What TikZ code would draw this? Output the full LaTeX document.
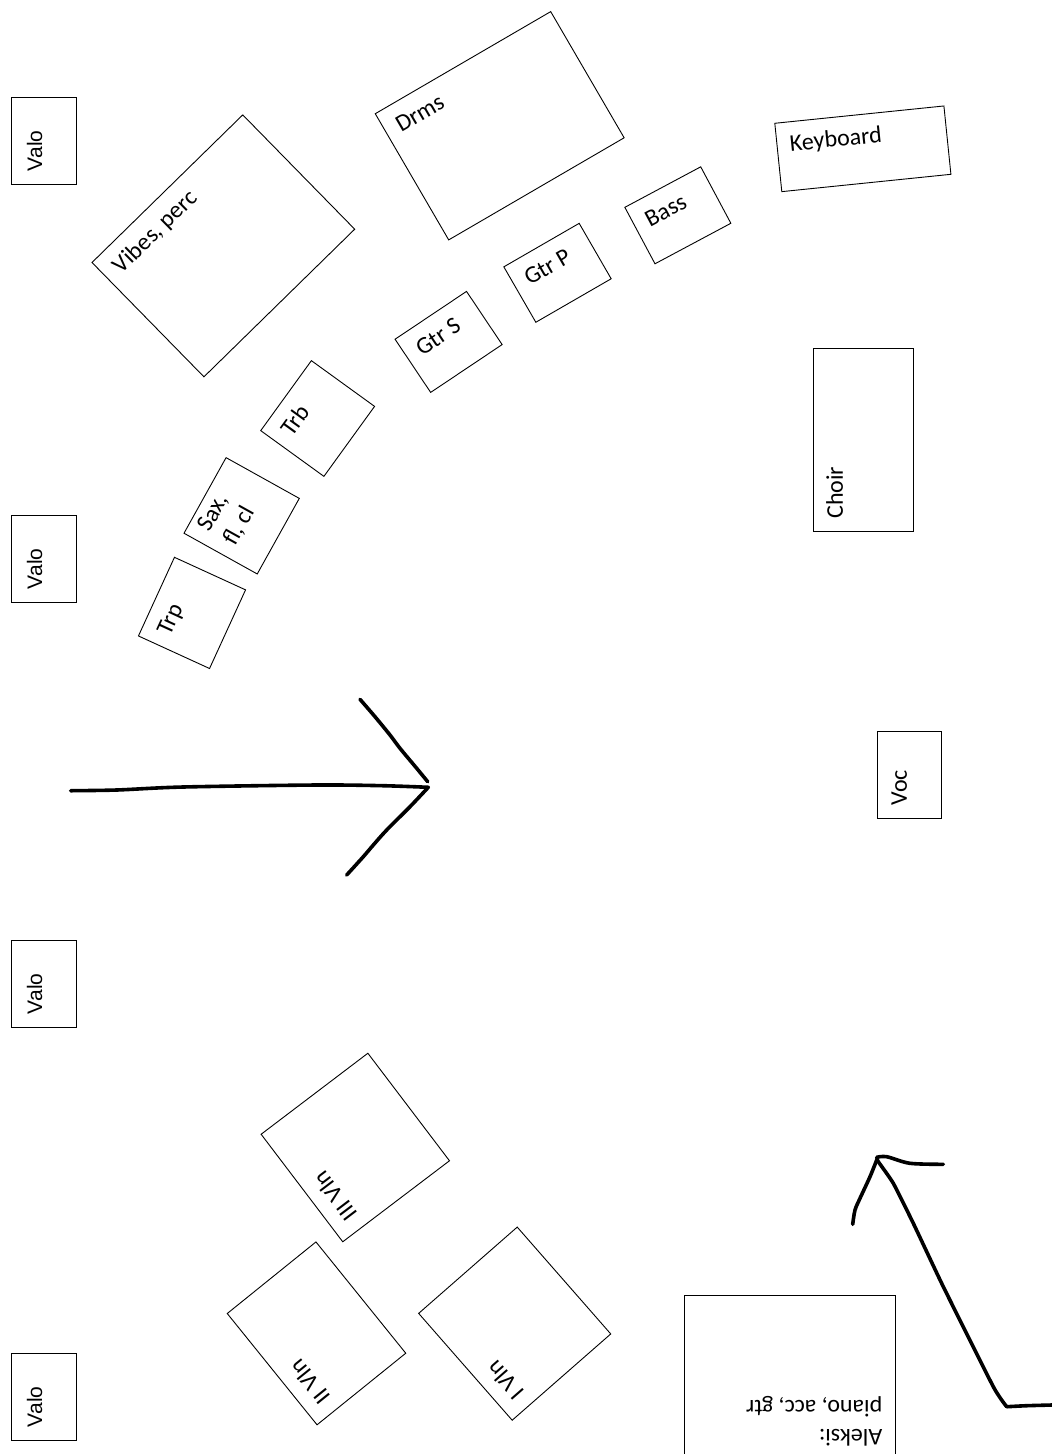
\documentclass[tikz,border=0pt]{standalone}
\usepackage{fontspec}
\newfontfamily\calfont{Carlito}
\newfontfamily\valofont{Liberation Sans}
\begin{document}
\begin{tikzpicture}[x=1pt,y=-1pt,
  stagebox/.style={draw=black, line width=0.9pt, inner sep=0pt, outer sep=0pt},
  lbl/.style={inner xsep=13pt, inner ysep=6.7pt, outer sep=0pt, anchor=north west, align=left,
    font=\calfont\fontsize{24pt}{29.3pt}\selectfont,
    execute at begin node={\rule{0pt}{22.8pt}}},
  valolbl/.style={lbl, font=\valofont\fontsize{21pt}{25pt}\selectfont,
    execute at begin node={\rule{0pt}{24.3pt}}},
  stroke/.style={line width=3.6pt, line cap=round, line join=round, black}
]
\useasboundingbox (0,0) rectangle (1052,1454);
\clip (0,0) rectangle (1052,1454);

% ---- lights (Valo) ----
\foreach \i/\cy in {1/140.5, 2/558.5, 3/983.5, 4/1396.5}{
  \node[stagebox, rotate=90, minimum width=87pt, minimum height=65pt] (valo\i) at (43.5,\cy) {};
  \node[valolbl, rotate=90] (valolbl\i) at (valo\i.north west) {Valo};
}

% ---- instruments ----
\node[stagebox, rotate=44.4, minimum width=211pt, minimum height=160pt] (vibes) at (223.35,245.85) {};
\node[lbl, rotate=44.4] (vibeslbl) at (vibes.north west) {Vibes, perc};

\node[stagebox, rotate=30.2, minimum width=203pt, minimum height=146pt] (drms) at (499.7,125.75) {};
\node[lbl, rotate=30.2] (drmslbl) at (drms.north west) {Drms};

\node[stagebox, rotate=5.85, minimum width=170pt, minimum height=68.7pt] (kbd) at (862.85,148.8) {};
\node[lbl, rotate=5.85] (kbdlbl) at (kbd.north west) {Keyboard};

\node[stagebox, rotate=28.1, minimum width=86pt, minimum height=64pt] (bass) at (677.85,215.3) {};
\node[lbl, rotate=28.1] (basslbl) at (bass.north west) {Bass};

\node[stagebox, rotate=30, minimum width=87pt, minimum height=64pt] (gtrp) at (557.5,272.8) {};
\node[lbl, rotate=30] (gtrplbl) at (gtrp.north west) {Gtr P};

\node[stagebox, rotate=33.8, minimum width=86pt, minimum height=64pt] (gtrs) at (448.6,341.9) {};
\node[lbl, rotate=33.8] (gtrslbl) at (gtrs.north west) {Gtr S};

\node[stagebox, rotate=54.1, minimum width=86.4pt, minimum height=78pt] (trb) at (317.65,418.5) {};
\node[lbl, rotate=54.1] (trblbl) at (trb.north west) {Trb};

\node[stagebox, rotate=60.9, minimum width=86.5pt, minimum height=83.8pt] (sax) at (241.65,515.8) {};
\node[lbl, rotate=60.9] (saxlbl) at (sax.north west) {Sax,\\fl, cl};

\node[stagebox, rotate=65.4, minimum width=86.5pt, minimum height=78.2pt] (trp) at (192,612.9) {};
\node[lbl, rotate=65.4] (trplbl) at (trp.north west) {Trp};

\node[stagebox, rotate=90, minimum width=183.4pt, minimum height=100pt] (choir) at (863.3,440) {};
\node[lbl, rotate=90] (choirlbl) at (choir.north west) {Choir};

\node[stagebox, rotate=90, minimum width=86.6pt, minimum height=64.4pt] (voc) at (909.5,775) {};
\node[lbl, rotate=90] (voclbl) at (voc.north west) {Voc};

% ---- strings ----
\node[stagebox, rotate=127.2, minimum width=135pt, minimum height=134pt] (vln3) at (355.3,1147.5) {};
\node[lbl, rotate=127.2] (vln3lbl) at (vln3.north west) {III Vln};

\node[stagebox, rotate=128.9, minimum width=143pt, minimum height=114pt] (vln2) at (316.5,1333.35) {};
\node[lbl, rotate=128.9] (vln2lbl) at (vln2.north west) {II Vln};

\node[stagebox, rotate=131.2, minimum width=142pt, minimum height=131pt] (vln1) at (514.7,1323.65) {};
\node[lbl, rotate=131.2] (vln1lbl) at (vln1.north west) {I Vln};

% ---- Aleksi (runs off the bottom edge) ----
\node[stagebox, rotate=180, minimum width=211.3pt, minimum height=163pt] (aleksi) at (789.65,1376.5) {};
\coordinate (aleksinw) at (895.3,1453);
\node[lbl, rotate=180] (aleksilbl) at (aleksinw) {Aleksi:\\piano, acc, gtr};

% ---- big hand-drawn arrow ----
\coordinate (bigtip) at (428.3,787.3);
\draw[stroke] plot[smooth, tension=0.5] coordinates {(70.7,790.7) (116.7,790) (183,787) (316.7,785) (383,785.7) (bigtip)};
\draw[stroke] plot[smooth, tension=0.5] coordinates {(360,699.3) (375,716.7) (390,735) (400,748.3) (416.7,768.3) (427.7,781.7)};
\draw[stroke] plot[smooth, tension=0.5] coordinates {(bigtip) (410,806.7) (386.7,830) (373.3,845) (363.3,856.7) (346.7,875)};

% ---- small hand-drawn arrow ----
\coordinate (smalltip) at (876.7,1158.3);
\coordinate (smallbend) at (1006.7,1406.7);
\draw[stroke] plot[smooth, tension=0.4] coordinates {(1052,1405) (1026.7,1405.7) (smallbend)};
\draw[stroke] plot[smooth, tension=0.3] coordinates {(smallbend) (993.3,1386.7) (943.3,1286.7) (913.3,1223.3) (893.3,1183.3) (878.3,1161.7) (smalltip)};
\draw[stroke] plot[smooth, tension=0.5] coordinates {(876.7,1157.3) (886.7,1156.7) (910,1163.3) (943.3,1164.3)};
\draw[stroke] plot[smooth, tension=0.5] coordinates {(876.7,1160) (870,1176.7) (860,1198.3) (855,1210) (852.7,1224.3)};
\end{tikzpicture}
\end{document}
